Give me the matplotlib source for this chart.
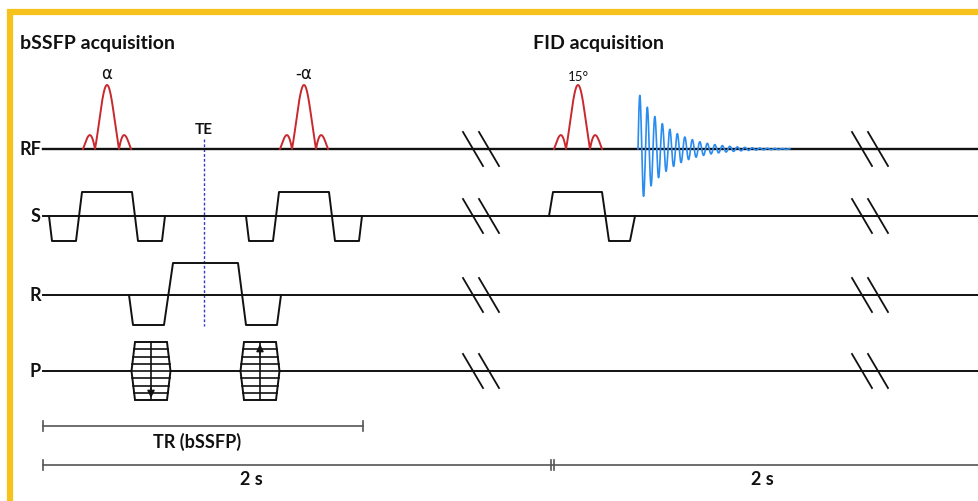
import numpy as np
import matplotlib.pyplot as plt
from matplotlib.patches import Polygon

# channel names and baseline rows (pixels from top)
channels = ['RF', 'S', 'R', 'P']
channel_rows = [150, 217, 296, 372]

# RF pulses: centre time, label
rf_centres = [107, 304, 578]
rf_labels = ['α', '-α', '15°']
rf_height = 64
rf_lobe = 12

# slice-select gradient, relative to each RF centre (bSSFP and FID)
ss_times = [-58, -55, -31, -25, 25, 31, 55, 58]
ss_amps = [0, -25, -25, 24, 24, -25, -25, 0]
fid_ss_times = [-29, -25, 24, 31, 52, 57]
fid_ss_amps = [0, 24, 24, -25, -25, 0]

# readout gradient (bSSFP)
ro_times = [129, 133, 164, 173, 238, 246, 277, 281]
ro_amps = [0, -30, -30, 32, 32, -30, -30, 0]

# phase-encode tables
pe_centres = [151, 260]
pe_dirs = [-1, 1]   # -1 = arrow down, 1 = arrow up
pe_half_h = 29
pe_steps = 9

te_time = 204

# FID
fid_start, fid_end = 638, 790
fid_amp, fid_period, fid_decay = 57, 7.5, 30

# break marks
break_times = [473, 862]

# timing bars
tr_bar = (43, 363)
total_bar = (43, 551, 979)

fig = plt.figure(figsize=(9.79, 5.02), dpi=100)
ax = fig.add_axes([0, 0, 1, 1])
ax.set_xlim(0, 979)
ax.set_ylim(502, 0)
ax.axis('off')

font = 'Lato'
black = '#111111'
red = '#C8282E'
blue = '#2A8CF0'

# yellow frame
ax.plot([7, 979], [13, 13], color='#F8C21C', lw=4.5, solid_capstyle='butt')
ax.plot([10, 10], [11, 502], color='#F8C21C', lw=4.5, solid_capstyle='butt')

ax.text(20, 44, 'bSSFP acquisition', fontsize=14, fontweight='bold', family=font, va='center', color=black)
ax.text(533, 44, 'FID acquisition', fontsize=14, fontweight='bold', family=font, va='center', color=black)

# baselines and labels
for name, row in zip(channels, channel_rows):
    ax.plot([43, 979], [row, row], color=black, lw=1.7 if name == 'RF' else 1.4, zorder=2)
    ax.text(41, row, name, fontsize=13, fontweight='bold', family=font, ha='right', va='center', color=black)

# RF pulses
rf_row = channel_rows[0]
t = np.linspace(-2, 2, 400)
for c, lab in zip(rf_centres, rf_labels):
    ax.plot(c + t * rf_lobe, rf_row - rf_height * np.abs(np.sinc(t)), color=red, lw=1.4, zorder=3)
    if lab == '15°':
        ax.text(c, rf_row - rf_height - 9, lab, fontsize=9.5, family=font, ha='center', va='center', color=black)
    else:
        ax.text(c, rf_row - rf_height - 12, lab, fontsize=12, family='DejaVu Sans', ha='center', va='center', color=black)

# TE marker
ax.plot([te_time, te_time], [140, 327], color='#3838C8', lw=1, ls=(0, (2, 1.5)), zorder=1)
ax.text(te_time, 130, 'TE', fontsize=11, fontweight='bold', family=font, ha='center', va='center', color=black)

# FID
tf = np.linspace(0, fid_end - fid_start, 2000)
fid = fid_amp * np.exp(-tf / fid_decay) * np.sin(2 * np.pi * tf / fid_period)
ax.plot(fid_start + tf, rf_row - fid, color=blue, lw=1.2, zorder=3)

# slice-select gradient
s_row = channel_rows[1]
for c in rf_centres[:2]:
    ax.plot(c + np.array(ss_times), s_row - np.array(ss_amps), color=black, lw=1.4, zorder=3)
ax.plot(rf_centres[2] + np.array(fid_ss_times), s_row - np.array(fid_ss_amps), color=black, lw=1.4, zorder=3)

# readout gradient
r_row = channel_rows[2]
ax.plot(ro_times, r_row - np.array(ro_amps), color=black, lw=1.4, zorder=3)

# phase-encode tables
p_row = channel_rows[3]
for c, d in zip(pe_centres, pe_dirs):
    hx = [(c - 16, p_row - pe_half_h), (c + 16, p_row - pe_half_h), (c + 19.5, p_row),
          (c + 16, p_row + pe_half_h), (c - 16, p_row + pe_half_h), (c - 19.5, p_row)]
    ax.add_patch(Polygon(hx, closed=True, fill=True, facecolor='white', edgecolor=black, lw=1.4, zorder=3))
    for dy in np.linspace(-pe_half_h, pe_half_h, pe_steps)[1:-1]:
        hw = 16 + 3.5 * (1 - abs(dy) / pe_half_h)
        ax.plot([c - hw, c + hw], [p_row + dy, p_row + dy], color=black, lw=1.2, zorder=4)
    ax.plot([c, c], [p_row - pe_half_h, p_row + pe_half_h], color=black, lw=1.2, zorder=4)
    tip = p_row - d * (pe_half_h - 2)
    ax.annotate('', xy=(c, tip), xytext=(c, tip + d * 10),
                arrowprops=dict(arrowstyle='-|>', color=black, lw=1, mutation_scale=11,
                                shrinkA=0, shrinkB=0), zorder=5)

# break marks
for bt in break_times:
    for row in channel_rows:
        for off in (0, 16):
            x = bt + off
            ax.plot([x - 10, x + 10], [row - 17, row + 17], color=black, lw=1.3, zorder=4)

# timing bars
grey = '#555555'
ax.plot(tr_bar, [427, 427], color=grey, lw=1.2)
for x in tr_bar:
    ax.plot([x, x], [422, 432], color=grey, lw=1.2)
ax.text(197, 442, 'TR (bSSFP)', fontsize=13, fontweight='bold', family=font, ha='center', va='center', color=black)

ax.plot([total_bar[0], total_bar[2]], [466, 466], color=grey, lw=1.2)
ax.plot([total_bar[0], total_bar[0]], [461, 471], color=grey, lw=1.2)
for x in (total_bar[1], total_bar[1] + 3):
    ax.plot([x, x], [461, 471], color=grey, lw=1.2)
ax.text(251, 480, '2 s', fontsize=13, fontweight='bold', family=font, ha='center', va='center', color=black)
ax.text(762, 480, '2 s', fontsize=13, fontweight='bold', family=font, ha='center', va='center', color=black)

fig.savefig('out.png', dpi=100, facecolor='white')
